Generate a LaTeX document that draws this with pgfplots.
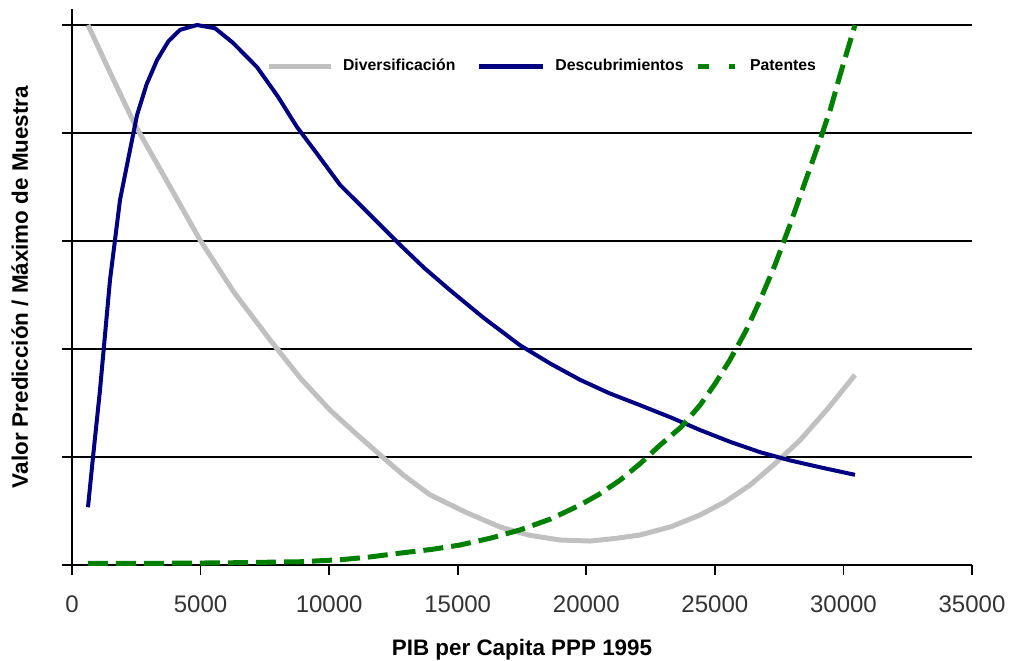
\documentclass[border=0pt]{standalone}
\usepackage{pgfplots}
\pgfplotsset{compat=1.18}
\usepackage{fontspec}
\setmainfont{Liberation Sans}
\definecolor{divgray}{HTML}{C0C0C0}
\definecolor{descblue}{HTML}{000080}
\definecolor{patgreen}{HTML}{008000}
\definecolor{ticktext}{HTML}{333333}

\begin{document}
\begin{tikzpicture}
\begin{axis}[
    name=ax,
    scale only axis,
    width=450pt, height=278.1pt,
    xmin=0, xmax=35000,
    ymin=0, ymax=1.03,
    axis x line=bottom, axis y line=left,
    axis line style={-, black, line width=0.8pt},
    xtick={0,5000,...,35000},
    ytick={0,0.2,0.4,0.6,0.8,1.0},
    yticklabels={},
    scaled x ticks=false,
    xticklabel={\pgfmathprintnumber[fixed,1000 sep={}]{\tick}},
    /pgf/number format/assume math mode=true,
    tick align=outside,
    major tick length=5pt,
    tick style={black, line width=0.8pt},
    ymajorgrids,
    major grid style={black, line width=0.7pt},
    xticklabel style={font=\fontsize{12}{14}\selectfont, text=ticktext, yshift=-7pt},
    xlabel={\textbf{PIB per Capita PPP 1995}},
    ylabel={\textbf{Valor Predicción / Máximo de Muestra}},
    label style={font=\fontsize{11.2}{13}\selectfont},
    xlabel style={at={(rel axis cs:0.5,0)}, anchor=base, yshift=-45pt},
    ylabel style={at={(rel axis cs:0,0.5)}, anchor=base, yshift=22pt},
    legend columns=3,
    legend style={draw=none, fill=none, inner sep=0pt,
        at={(axis cs:7550,0.923)}, anchor=west,
        font=\fontsize{7.9}{9}\selectfont\bfseries,
        /tikz/every even column/.append style={column sep=5pt},
        nodes={inner sep=1pt}},
    legend cell align=left,
]
\coordinate (o) at (axis cs:0,0);

\addplot[divgray, line width=2.5pt, line join=round,
    legend image code/.code={\draw[divgray, line width=2.5pt] (0pt,0pt) -- (31pt,0pt); \path[draw=none] (0pt,0pt) -- (36pt,0pt);}]
 coordinates {
 (622,1.0) (1500,0.91) (2450,0.815) (3700,0.71) (4978,0.602) (6300,0.505)
 (7700,0.417) (8900,0.345) (10033,0.287) (11000,0.245) (11978,0.204)
 (12900,0.166) (13922,0.130) (15300,0.098) (16644,0.0704) (17800,0.055)
 (18978,0.0463) (20144,0.0444) (21100,0.049) (22089,0.0556) (23300,0.071)
 (24422,0.0926) (25400,0.117) (26367,0.148) (27300,0.186) (28311,0.231)
 (29400,0.290) (30450,0.352)
 };
\addlegendentry{Diversificación}

\addplot[descblue, line width=2pt, line join=round,
    legend image code/.code={\draw[descblue, line width=2.2pt] (0pt,0pt) -- (32pt,0pt); \path[draw=none] (-6pt,0pt) -- (37pt,0pt);}]
 coordinates {
 (622,0.107) (817,0.2) (1089,0.324) (1478,0.528) (1867,0.676) (2178,0.75)
 (2528,0.833) (2900,0.890) (3306,0.935) (3750,0.970) (4200,0.991) (4861,1.0)
 (5561,0.994) (6261,0.967) (7194,0.922) (8000,0.868) (8750,0.811)
 (9600,0.757) (10422,0.704) (11600,0.648) (12756,0.593) (13700,0.550)
 (14700,0.509) (16000,0.458) (17422,0.407) (18600,0.373) (19756,0.343)
 (20900,0.318) (22089,0.296) (23300,0.273) (24422,0.25) (25600,0.228)
 (26756,0.209) (27900,0.194) (29089,0.181) (30450,0.167)
 };
\addlegendentry{Descubrimientos}

\addplot[patgreen, line width=2.5pt, dash pattern=on 10pt off 4pt,
    legend image code/.code={\draw[patgreen, solid, line width=2.5pt] (0pt,0pt) -- (5.5pt,0pt); \draw[patgreen, solid, line width=2.5pt] (15.5pt,0pt) -- (18.5pt,0pt); \path[draw=none] (0pt,0pt) -- (25pt,0pt);}]
 coordinates {
 (622,0.003) (3000,0.003) (6000,0.004) (8867,0.006) (10500,0.010)
 (11600,0.015) (12756,0.022) (14000,0.029) (15089,0.037) (16300,0.050)
 (17422,0.065) (18600,0.085) (19756,0.111) (20500,0.131) (21311,0.157)
 (22100,0.188) (22867,0.222) (23700,0.256) (24422,0.296) (25000,0.335)
 (25589,0.38) (26200,0.433) (26756,0.49) (27350,0.557) (27922,0.63)
 (28500,0.708) (29089,0.787) (29500,0.845) (29867,0.907) (30450,1.0)
 };
\addlegendentry{Patentes}
\end{axis}
\pgfresetboundingbox
\path[use as bounding box] ([shift={(-36pt,-47.5pt)}]o) rectangle ([shift={(469pt,282.5pt)}]o);
\end{tikzpicture}
\end{document}
